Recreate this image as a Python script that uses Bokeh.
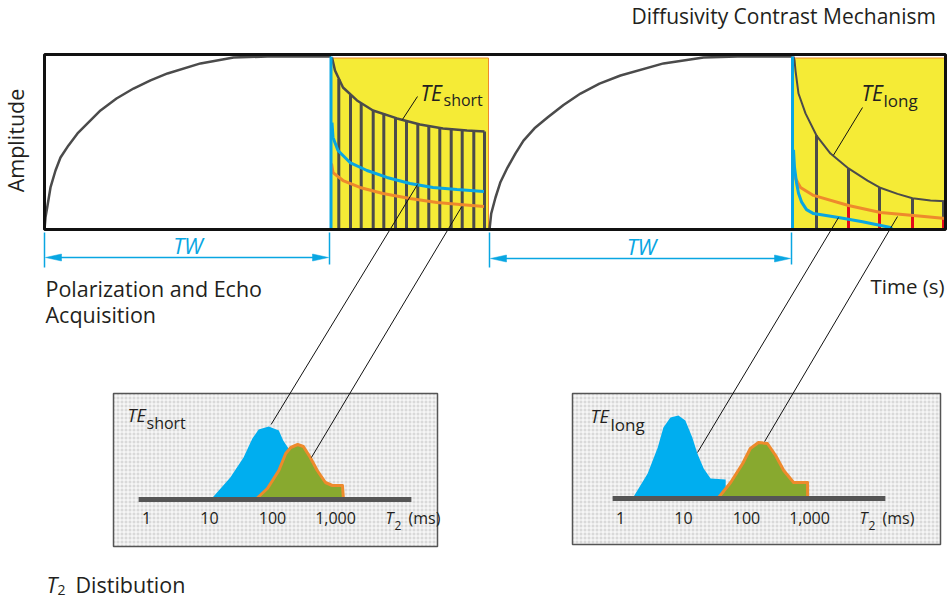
import numpy as np
from bokeh.plotting import figure
from bokeh.models import Range1d
from bokeh.core.properties import value
from bokeh.embed import file_html
from bokeh.resources import INLINE

# ------------------------------------------------------------------ data
# Top panel: time in s, amplitude normalised to full polarisation (0..1)
TW_START = [0.0, 4.45]
TW_END = [2.85, 7.47]
ACQ_START = [2.865, 7.48]
ACQ_END = [4.44, 9.01]
PANEL_END = 9.01

# polarisation build-up during each wait time (t relative to TW start)
pol1_t = [0.0, 0.01, 0.027, 0.06, 0.11, 0.16, 0.24, 0.33, 0.45, 0.56, 0.72, 0.89, 1.06,
          1.23, 1.56, 1.89, 2.23, 2.865]
pol1_a = [0.0, 0.07, 0.127, 0.243, 0.341, 0.416, 0.486, 0.555, 0.625, 0.688, 0.757, 0.815,
          0.862, 0.902, 0.960, 0.994, 1.0, 1.0]
pol2_t = [0.0, 0.017, 0.06, 0.11, 0.18, 0.26, 0.34, 0.45, 0.58, 0.74, 0.91, 1.10, 1.31,
          1.74, 2.14, 2.48, 3.03]
pol2_a = [0.0, 0.092, 0.185, 0.275, 0.358, 0.440, 0.514, 0.585, 0.647, 0.720, 0.786, 0.843,
          0.890, 0.960, 0.994, 1.0, 1.0]

# short-TE acquisition (t relative to ACQ_START[0])
short_env_t = [0.01, 0.04, 0.12, 0.26, 0.42, 0.66, 0.89, 1.12, 1.36, 1.535]
short_env_a = [0.994, 0.919, 0.821, 0.746, 0.688, 0.642, 0.607, 0.584, 0.572, 0.566]
short_fast_t = [0.01, 0.02, 0.07, 0.19, 0.36, 0.56, 0.79, 1.02, 1.26, 1.53]
short_fast_a = [0.618, 0.532, 0.457, 0.387, 0.341, 0.301, 0.266, 0.243, 0.231, 0.220]
short_slow_t = [0.005, 0.02, 0.12, 0.29, 0.52, 0.79, 1.06, 1.29, 1.53]
short_slow_a = [0.382, 0.329, 0.283, 0.243, 0.208, 0.179, 0.156, 0.145, 0.133]
short_echo_t = [0.078, 0.195, 0.302, 0.422, 0.528, 0.645, 0.755, 0.868, 0.978,
                1.088, 1.202, 1.312, 1.428, 1.535]
short_echo_a = [0.87, 0.78, 0.73, 0.69, 0.67, 0.644, 0.627, 0.61, 0.597,
                0.587, 0.58, 0.574, 0.57, 0.566]

# long-TE acquisition (t relative to ACQ_START[1])
long_env_t = [0.01, 0.02, 0.03, 0.06, 0.13, 0.24, 0.38, 0.56, 0.75, 0.87, 1.05, 1.20, 1.38, 1.53]
long_env_a = [1.0, 0.98, 0.919, 0.786, 0.671, 0.543, 0.439, 0.353, 0.283, 0.243, 0.206, 0.181, 0.168, 0.164]
long_fast_t = [0.01, 0.02, 0.04, 0.06, 0.09, 0.14, 0.21, 0.46, 0.70, 0.98, 1.00]
long_fast_a = [0.46, 0.36, 0.27, 0.21, 0.16, 0.115, 0.092, 0.069, 0.045, 0.012, 0.0]
long_slow_t = [0.01, 0.03, 0.08, 0.21, 0.56, 0.88, 1.21, 1.53]
long_slow_a = [0.33, 0.295, 0.243, 0.197, 0.139, 0.098, 0.081, 0.064]
long_echo_t = [0.24, 0.56, 0.87, 1.20, 1.51]
long_echo_a = [0.543, 0.353, 0.243, 0.181, 0.165]
long_echo_slow = [0.0, 0.139, 0.099, 0.081, 0.065]

# T2 distributions (T2 in ms, amplitude in arbitrary units)
t2_ticks = [1, 10, 100, 1000]
t2_tick_labels = ["1", "10", "100", "1,000"]
t2_axis = [0.75, 16000]

ds_fast_T2 = [10.5, 21.4, 34.7, 47.9, 60.3, 87.1, 126, 148, 234, 398, 575, 741, 794]
ds_fast_amp = [0, 22, 42, 61, 70, 73, 69, 59, 40, 22, 18, 16, 0]
ds_slow_T2 = [54, 83, 126, 162, 195, 251, 309, 398, 513, 692, 891, 1290, 1340]
ds_slow_amp = [0, 11, 29, 46, 52, 55, 53, 42, 29, 17, 14, 14, 0]

dl_fast_T2 = [1.55, 2.7, 3.9, 4.8, 6.2, 8.3, 10.7, 13.8, 16.6, 20.9, 26.9, 46.7, 46.8]
dl_fast_amp = [0, 25, 51, 71, 81, 83, 78, 61, 45, 30, 20, 19, 0]
dl_slow_T2 = [35, 56, 87, 115, 155, 215, 290, 390, 560, 930, 935]
dl_slow_amp = [0, 16, 35, 50, 56, 55, 43, 28, 16, 16, 0]

# ------------------------------------------------------------------ styles / layout
FONT = value("Open Sans")
TXT = "#231f20"
BLUE = "#09a6e2"
ORANGE = "#ee8a2c"
YELLOW = "#f5eb36"
GRAY = "#4b4b4b"
RED = "#e30b1c"
GREEN = "#88a92f"
DBLUE = "#00aeef"

X0, PXS, YB, AH = 44.0, 100.0, 229.0, 173.0
def px(t):
    return X0 + PXS * np.asarray(t, dtype=float)
def py(a):
    return YB - AH * np.asarray(a, dtype=float)

INSETS = [dict(box=(113, 437, 393, 546), x0=146.0, base=499.0),
          dict(box=(572, 940, 393, 544), x0=620.0, base=498.0)]
DEC = 63.0
def ix(k, T2):
    return INSETS[k]["x0"] + DEC * np.log10(np.asarray(T2, dtype=float))
def iy(k, amp):
    return INSETS[k]["base"] - np.asarray(amp, dtype=float)

p = figure(width=947, height=600, x_range=Range1d(0, 947), y_range=Range1d(600, 0),
           output_backend="svg", toolbar_location=None, min_border=0,
           x_axis_location=None, y_axis_location=None)
p.grid.visible = False
p.outline_line_color = None
p.background_fill_color = "white"
p.border_fill_color = "white"

MID = 0.38  # distance from baseline to text middle, in em

def txt(x, base, s, size, color=TXT, style="normal", align="left", rotated=False):
    if rotated:
        xx, yy, ang = x - MID * size, base, np.pi / 2
    else:
        xx, yy, ang = x, base - MID * size, 0.0
    p.text(x=[xx], y=[yy], text=[s], text_font=FONT, text_font_size=value(f"{size}px"),
           text_color=color, text_font_style=style, text_align=align,
           text_baseline="middle", angle=ang)

# ------------------------------------------------------------------ top panel
for s, e in zip(ACQ_START, ACQ_END):
    p.quad(left=px(s) + 0.5, right=px(e), top=py(1.0) + 1.5, bottom=YB - 0.5,
           fill_color=YELLOW, line_color=ORANGE, line_width=1)

# short TE echoes
s0 = ACQ_START[0]
p.segment(x0=px(s0 + np.array(short_echo_t)), y0=py(short_echo_a),
          x1=px(s0 + np.array(short_echo_t)), y1=py(0), line_color=GRAY, line_width=3)
p.line(px(s0 + np.array(short_env_t)), py(short_env_a), line_color=GRAY, line_width=2.5)
p.line(px(s0 + np.array(short_fast_t)), py(short_fast_a), line_color=BLUE, line_width=3)
p.line(px(s0 + np.array(short_slow_t)), py(short_slow_a), line_color=ORANGE, line_width=3)

# long TE echoes
s1 = ACQ_START[1]
le_x = px(s1 + np.array(long_echo_t))
p.segment(x0=le_x, y0=py(long_echo_a), x1=le_x, y1=py(long_echo_slow), line_color=GRAY, line_width=3)
red_idx = [i for i, v in enumerate(long_echo_slow) if v > 0]
p.segment(x0=le_x[red_idx], y0=py(np.array(long_echo_slow)[red_idx]), x1=le_x[red_idx],
          y1=[py(0)] * len(red_idx), line_color=RED, line_width=3)
first = [i for i, v in enumerate(long_echo_slow) if v == 0]
p.segment(x0=le_x[first], y0=py(np.array(long_echo_a)[first]), x1=le_x[first],
          y1=[py(0)] * len(first), line_color=GRAY, line_width=3)
p.line(px(s1 + np.array(long_env_t)), py(long_env_a), line_color=GRAY, line_width=2)
p.line(px(s1 + np.array(long_slow_t)), py(long_slow_a), line_color=ORANGE, line_width=3)
p.line(px(s1 + np.array(long_fast_t)), py(long_fast_a), line_color=BLUE, line_width=3)

# polarisation curves
p.line(px(TW_START[0] + np.array(pol1_t)), py(pol1_a), line_color=GRAY, line_width=2.5,
       line_join="round")
p.line(px(TW_START[1] + np.array(pol2_t)), py(pol2_a), line_color=GRAY, line_width=2.5,
       line_join="round")

# acquisition start (blue) lines
p.segment(x0=px(ACQ_START), y0=[py(1.0)] * 2, x1=px(ACQ_START), y1=[py(0)] * 2,
          line_color=BLUE, line_width=3)

# panel frame
p.quad(left=X0, right=px(PANEL_END), top=py(1.0) - 2, bottom=YB, fill_color=None,
       line_color="#111111", line_width=3)

# TW markers
for s, e, yy in zip(TW_START, TW_END, [257, 258]):
    xs_, xe_ = float(px(s)), float(px(e))
    p.segment(x0=[xs_, xe_], y0=[232, 232], x1=[xs_, xe_], y1=[267, 264],
              line_color=BLUE, line_width=1.5)
    p.segment(x0=[xs_ + 8], y0=[yy], x1=[xe_ - 8], y1=[yy], line_color=BLUE, line_width=1.5)
    p.patches(xs=[[xs_ + 1, xs_ + 17, xs_ + 17], [xe_ - 1, xe_ - 17, xe_ - 17]],
              ys=[[yy, yy - 3.5, yy + 3.5], [yy, yy - 3.5, yy + 3.5]],
              fill_color=BLUE, line_color=BLUE, line_width=0.5)
    txt((xs_ + xe_) / 2 + 1, yy - 4.5, "TW", 22, color=BLUE, style="italic", align="center")

# ------------------------------------------------------------------ insets
dists = [((ds_fast_T2, ds_fast_amp), (ds_slow_T2, ds_slow_amp)),
         ((dl_fast_T2, dl_fast_amp), (dl_slow_T2, dl_slow_amp))]
for k, ins in enumerate(INSETS):
    bx0, bx1, by0, by1 = ins["box"]
    p.quad(left=bx0, right=bx1, top=by0, bottom=by1, fill_color="#d9d9d9", line_color=None)
    vx = np.arange(bx0 + 2.5, bx1, 4.0)
    hy = np.arange(by0 + 2.5, by1, 4.0)
    p.segment(x0=vx, y0=[by0] * len(vx), x1=vx, y1=[by1] * len(vx), line_color="white", line_width=1)
    p.segment(x0=[bx0] * len(hy), y0=hy, x1=[bx1] * len(hy), y1=hy, line_color="white", line_width=1)
    p.quad(left=bx0, right=bx1, top=by0, bottom=by1, fill_color=None, line_color="#555555",
           line_width=1.5)
    (fT, fA), (sT, sA) = dists[k]
    p.patch(ix(k, fT), iy(k, fA), fill_color=DBLUE, line_color=None)
    p.patch(ix(k, sT), iy(k, sA), fill_color=GREEN, line_color=ORANGE, line_width=3,
            line_join="round")
    p.segment(x0=[ix(k, t2_axis[0])], y0=[ins["base"]], x1=[ix(k, t2_axis[1])], y1=[ins["base"]],
              line_color="#555555", line_width=5)
    for tv, tl in zip(t2_ticks, t2_tick_labels):
        txt(float(ix(k, tv)), 524, tl, 16, align="center")
    ox = ins["x0"]
    txt(ox + 239, 524, "T", 16, style="italic")
    txt(ox + 248, 530, "2", 12)
    txt(ox + 262, 524, "(ms)", 16)

txt(127, 421, "TE", 18, style="italic")
txt(146, 429, "short", 16)
txt(590, 422, "TE", 18, style="italic")
txt(610, 430, "long", 17)

# ------------------------------------------------------------------ connectors
conn = [(0, 0, 0.865, 0.26, 95, 75), (0, 0, 1.305, 0.13, 415, 42),
        (1, 1, 0.46, 0.069, 16.7, 46), (1, 1, 1.05, 0.075, 194, 57)]
for acq, k, tr, a, T2, amp in conn:
    p.segment(x0=[float(px(ACQ_START[acq] + tr))], y0=[float(py(a))],
              x1=[float(ix(k, T2))], y1=[float(iy(k, amp))], line_color="#111111", line_width=1)

# TE label leaders
p.segment(x0=[417, 862], y0=[96, 107],
          x1=[float(px(ACQ_START[0] + 0.715)), float(px(ACQ_START[1] + 0.41))],
          y1=[float(py(0.636)), float(py(0.43))], line_color="#111111", line_width=1)

# ------------------------------------------------------------------ texts
txt(420, 100, "TE", 21, style="italic")
txt(443, 106, "short", 16)
txt(861, 100, "TE", 21, style="italic")
txt(883, 106, "long", 17)

txt(631, 23.5, "Diffusivity Contrast Mechanism", 21)
txt(23, 140, "Amplitude", 21.5, align="center", rotated=True)
txt(45, 296, "Polarization and Echo", 21.5)
txt(45, 322, "Acquisition", 21.5)
txt(870, 293, "Time (s)", 20.5)
txt(46, 592, "T", 21.5, style="italic")
txt(57, 595, "2", 14)
txt(75, 592, "Distibution", 21.5)

open("out.html", "w").write(file_html(p, INLINE))
